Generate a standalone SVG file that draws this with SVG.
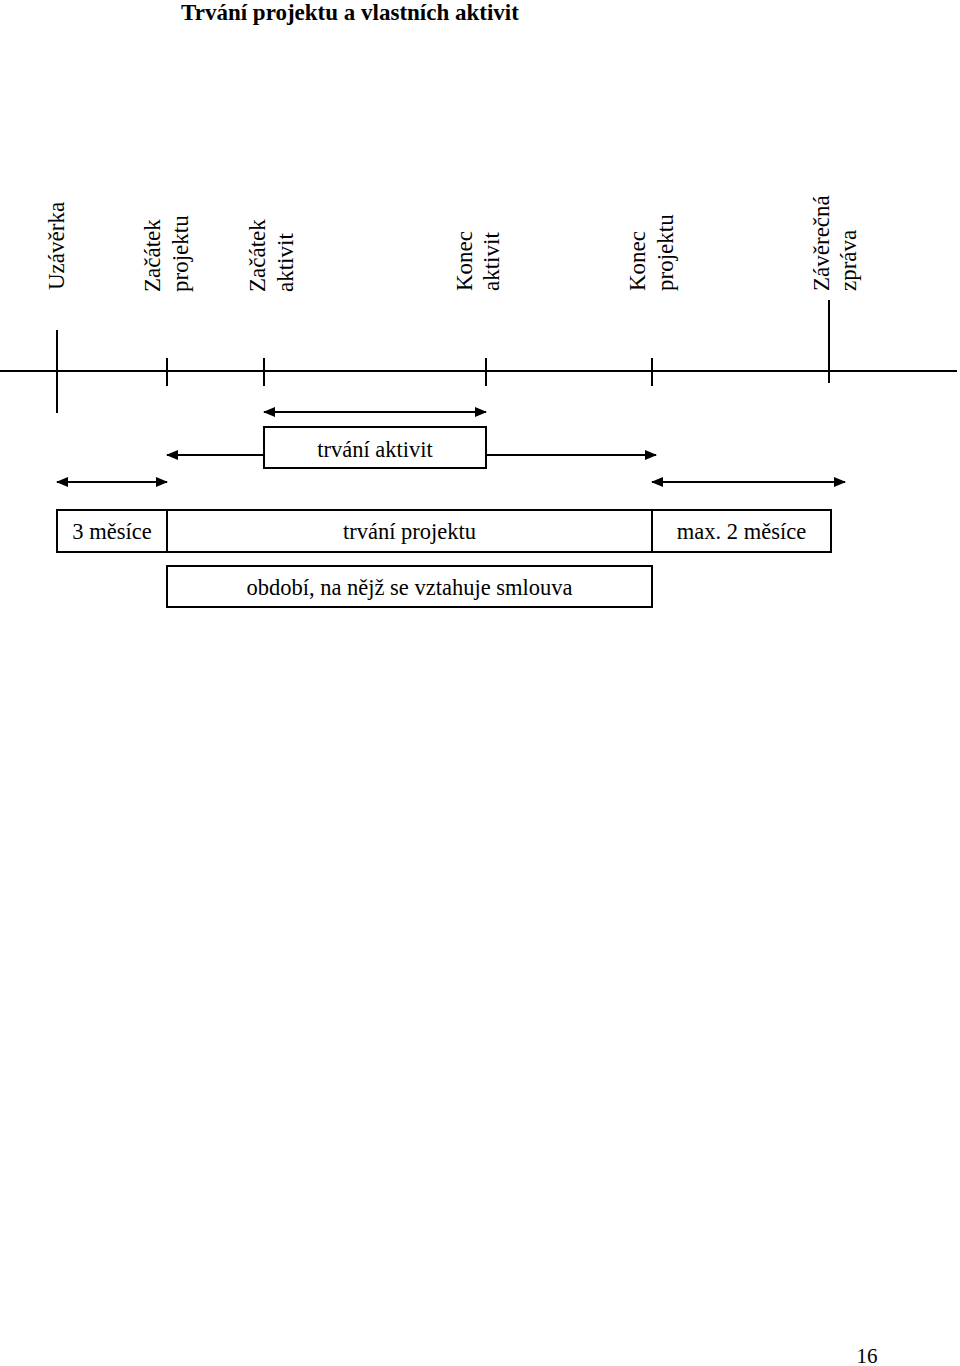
<svg xmlns="http://www.w3.org/2000/svg" width="960" height="1366" viewBox="0 0 960 1366">
<style>
text{font-family:"Liberation Serif","Times New Roman",serif;fill:#000}
.lbl{font-size:23px}
.box{fill:#fff;stroke:#000;stroke-width:2}
.ln{stroke:#000;stroke-width:2;fill:none}
.bt{font-size:22.5px;text-anchor:middle}
</style>
<defs>
<marker id="ah" viewBox="0 0 12 10" refX="11" refY="5" markerWidth="12" markerHeight="10" markerUnits="userSpaceOnUse" orient="auto-start-reverse">
<path d="M0,0 L12,5 L0,10 Z" fill="#000"/>
</marker>
</defs>
<rect width="960" height="1366" fill="#fff"/>
<text x="350" y="20" font-size="23" font-weight="bold" text-anchor="middle">Trvání projektu a vlastních aktivit</text>

<g id="connectors">
<line class="ln" x1="0" y1="371" x2="957" y2="371"/>
<line class="ln" x1="57" y1="330" x2="57" y2="413"/>
<line class="ln" x1="167" y1="358" x2="167" y2="386"/>
<line class="ln" x1="264" y1="358" x2="264" y2="386"/>
<line class="ln" x1="486" y1="358" x2="486" y2="386"/>
<line class="ln" x1="652" y1="358" x2="652" y2="386"/>
<line class="ln" x1="829" y1="300" x2="829" y2="383"/>
<line class="ln" x1="264" y1="412" x2="486" y2="412" marker-start="url(#ah)" marker-end="url(#ah)"/>
<line class="ln" x1="264" y1="455" x2="167" y2="455" marker-end="url(#ah)"/>
<line class="ln" x1="486" y1="455" x2="656" y2="455" marker-end="url(#ah)"/>
<line class="ln" x1="57" y1="482" x2="167" y2="482" marker-start="url(#ah)" marker-end="url(#ah)"/>
<line class="ln" x1="652" y1="482" x2="845" y2="482" marker-start="url(#ah)" marker-end="url(#ah)"/>
</g>

<g id="uzaverka"><text class="lbl" transform="translate(64,290) rotate(-90)">Uzávěrka</text></g>
<g id="zacatek-projektu"><text class="lbl" transform="translate(160,292) rotate(-90)">Začátek</text><text class="lbl" transform="translate(188,292) rotate(-90)">projektu</text></g>
<g id="zacatek-aktivit"><text class="lbl" transform="translate(265,292) rotate(-90)">Začátek</text><text class="lbl" transform="translate(293,292) rotate(-90)">aktivit</text></g>
<g id="konec-aktivit"><text class="lbl" transform="translate(472,291) rotate(-90)">Konec</text><text class="lbl" transform="translate(499,291) rotate(-90)">aktivit</text></g>
<g id="konec-projektu"><text class="lbl" transform="translate(645,291) rotate(-90)">Konec</text><text class="lbl" transform="translate(673,291) rotate(-90)">projektu</text></g>
<g id="zaverecna-zprava"><text class="lbl" transform="translate(829,291) rotate(-90)">Závěrečná</text><text class="lbl" transform="translate(856,291) rotate(-90)">zpráva</text></g>

<g id="trvani-aktivit"><rect class="box" x="264" y="427" width="222" height="41"/><text class="bt" x="375" y="457">trvání aktivit</text></g>
<g id="tri-mesice"><rect class="box" x="57" y="510" width="110" height="42"/><text class="bt" x="112" y="539">3 měsíce</text></g>
<g id="trvani-projektu"><rect class="box" x="167" y="510" width="485" height="42"/><text class="bt" x="409.5" y="539">trvání projektu</text></g>
<g id="max-2-mesice"><rect class="box" x="652" y="510" width="179" height="42"/><text class="bt" x="741.5" y="539">max. 2 měsíce</text></g>
<g id="obdobi"><rect class="box" x="167" y="566" width="485" height="41"/><text class="bt" x="409.5" y="595">období, na nějž se vztahuje smlouva</text></g>

<text x="867" y="1363" font-size="21" text-anchor="middle">16</text>
</svg>
